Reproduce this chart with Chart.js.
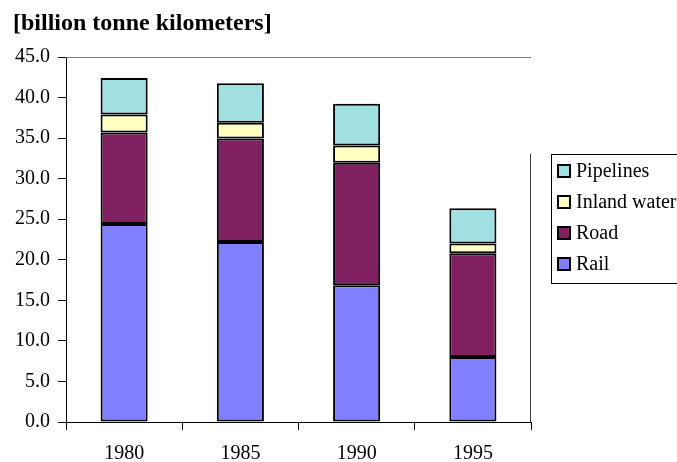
<!DOCTYPE html>
<html>
<head>
<meta charset="utf-8">
<script src="https://cdn.jsdelivr.net/npm/chart.js@4.4.0/dist/chart.umd.min.js"></script>
<style>
  html, body { margin: 0; padding: 0; background: #fff; overflow: hidden; }
  #wrap { width: 677px; height: 462px; }
</style>
</head>
<body>
<div id="wrap"><canvas id="freightChart" width="677" height="462"></canvas></div>
<script>
const years = ["1980", "1985", "1990", "1995"];
const rail = [24.4, 22.2, 16.85, 8.0];
const road = [11.3, 12.75, 15.1, 12.8];
const inlandWater = [2.2, 1.95, 2.15, 1.2];
const pipelines = [4.5, 4.85, 5.15, 4.35];
const yTicks = [0, 5, 10, 15, 20, 25, 30, 35, 40, 45];

const serif = '"Times New Roman", "Liberation Serif", "DejaVu Serif", serif';

document.addEventListener("DOMContentLoaded", function () {
    const ctx = document.getElementById("freightChart").getContext("2d");

    // título, marco del área y leyenda dibujados a mano
    const extras = {
        id: "extras",
        afterDraw(chart) {
            const c = chart.ctx;
            const area = chart.chartArea;
            c.save();
            c.fillStyle = "#000";
            c.font = "bold 24px " + serif;
            c.textBaseline = "alphabetic";
            c.textAlign = "left";
            c.fillText("[billion tonne kilometers]", 13, 30);

            // línea superior y derecha del área
            c.strokeStyle = "#808080";
            c.lineWidth = 1;
            c.beginPath();
            c.moveTo(area.left, area.top + 0.5);
            c.lineTo(area.right, area.top + 0.5);
            c.stroke();

            const lx = area.right + 20, ly = 154;
            c.strokeStyle = "#404040";
            c.beginPath();
            c.moveTo(area.right - 0.5, ly);
            c.lineTo(area.right - 0.5, area.bottom);
            c.stroke();

            // leyenda
            const items = chart.data.datasets.slice().reverse();
            c.strokeStyle = "#000";
            c.strokeRect(lx + 0.5, ly + 0.5, 200, 129);
            c.font = "20px " + serif;
            c.textBaseline = "middle";
            items.forEach(function (ds, i) {
                const cy = ly + 17 + i * 31;
                c.fillStyle = ds.backgroundColor;
                c.fillRect(lx + 7, cy - 6, 12, 12);
                c.lineWidth = 2;
                c.strokeRect(lx + 7, cy - 6, 12, 12);
                c.fillStyle = "#000";
                c.fillText(ds.label, lx + 25, cy + 1);
            });
            c.restore();
        }
    };

    const data = {
        labels: years,
        datasets: [
            { label: "Rail", data: rail, backgroundColor: "#8080FF" },
            { label: "Road", data: road, backgroundColor: "#802060" },
            { label: "Inland water", data: inlandWater, backgroundColor: "#FFFFC0" },
            { label: "Pipelines", data: pipelines, backgroundColor: "#A0E0E0" }
        ].map(ds => Object.assign(ds, {
            borderColor: "#000",
            borderWidth: 2,
            borderSkipped: false,
            barPercentage: 0.405,
            categoryPercentage: 1.0
        }))
    };

    new Chart(ctx, {
        type: "bar",
        data: data,
        options: {
            responsive: false,
            animation: false,
            layout: { padding: { left: 0, top: 57, right: 146, bottom: 0 } },
            plugins: {
                legend: { display: false },
                title: { display: false },
                tooltip: { enabled: false }
            },
            scales: {
                x: {
                    stacked: true,
                    afterFit(scale) { scale.height = 40; },
                    grid: { offset: true, drawOnChartArea: false, drawTicks: true, tickLength: 8, color: "#000" },
                    border: { color: "#000", width: 1 },
                    ticks: { color: "#000", padding: 12, font: { family: serif, size: 20 } }
                },
                y: {
                    stacked: true,
                    min: 0,
                    max: 45,
                    afterFit(scale) { scale.width = 66; },
                    afterBuildTicks(scale) { scale.ticks = yTicks.map(v => ({ value: v })); },
                    grid: { drawOnChartArea: false, drawTicks: true, tickLength: 8, color: "#000" },
                    border: { color: "#000", width: 1 },
                    ticks: {
                        color: "#000",
                        padding: 8,
                        font: { family: serif, size: 20 },
                        callback: v => Number(v).toFixed(1)
                    }
                }
            }
        },
        plugins: [extras]
    });
});
</script>
</body>
</html>
